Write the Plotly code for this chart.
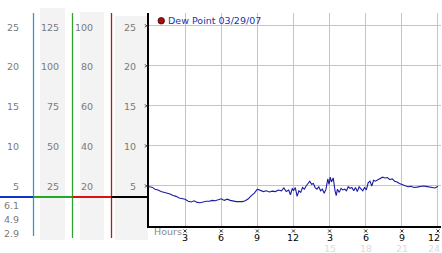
import plotly.graph_objects as go

W, H = 442, 253

# ---- data ----
hours = [0.0, 0.25, 0.5, 0.75, 1.0, 1.25, 1.5, 1.75, 2.0, 2.25, 2.5, 2.75, 3.0, 3.25, 3.5, 3.75,
         4.0, 4.25, 4.5, 4.75, 5.0, 5.25, 5.5, 5.75, 6.0, 6.25, 6.5, 6.75, 7.0, 7.25, 7.5, 7.75,
         8.0, 8.25, 8.5, 8.75, 9.0, 9.25, 9.5, 9.75, 10.0, 10.25, 10.5, 10.75, 11.0, 11.2, 11.4,
         11.6, 11.75, 11.9, 12.0, 12.15, 12.3, 12.45, 12.6, 12.75, 12.9, 13.05, 13.2, 13.35, 13.5,
         13.65, 13.8, 13.95, 14.1, 14.25, 14.4, 14.55, 14.7, 14.85, 14.95, 15.05, 15.15, 15.3,
         15.45, 15.55, 15.65, 15.8, 15.95, 16.1, 16.25, 16.4, 16.55, 16.7, 16.85, 17.0, 17.15,
         17.3, 17.45, 17.6, 17.75, 17.9, 18.05, 18.2, 18.35, 18.5, 18.65, 18.8, 19.0, 19.2, 19.4,
         19.6, 19.8, 20.0, 20.2, 20.4, 20.6, 20.8, 21.0, 21.25, 21.5, 21.75, 22.0, 22.25, 22.5,
         22.75, 23.0, 23.25, 23.5, 23.75, 24.0]
dew_point = [4.9, 4.85, 4.6, 4.5, 4.3, 4.2, 4.1, 4.0, 3.8, 3.7, 3.5, 3.4, 3.35, 3.1, 3.0, 3.15,
             2.95, 2.9, 3.0, 3.1, 3.1, 3.2, 3.15, 3.3, 3.4, 3.2, 3.35, 3.2, 3.1, 3.05, 3.05, 3.05,
             3.15, 3.4, 3.8, 4.1, 4.6, 4.4, 4.3, 4.4, 4.25, 4.35, 4.3, 4.5, 4.4, 4.75, 4.3,
             4.5, 3.9, 4.7, 4.4, 4.8, 3.7, 4.4, 4.2, 4.8, 4.6, 5.0, 5.3, 5.6, 5.2,
             5.3, 4.8, 4.6, 4.9, 4.4, 4.6, 4.1, 4.6, 5.9, 5.2, 6.1, 5.5, 6.0,
             4.4, 3.8, 4.6, 4.2, 4.7, 4.5, 4.6, 4.4, 4.9, 4.7, 4.8, 4.4, 4.8,
             4.3, 4.9, 4.7, 4.4, 4.8, 4.5, 5.4, 5.6, 5.0, 5.7, 5.6, 5.8, 5.9, 6.1,
             6.0, 6.05, 5.8, 5.9, 5.6, 5.5, 5.3, 5.2, 5.0, 4.9, 4.95, 4.8, 4.85, 4.9,
             5.0, 4.95, 4.9, 4.8, 4.75, 4.95]

x_ticks = [3, 6, 9, 12, 15, 18, 21, 24]
x_ticktext = ["3", "6", "9", "12", "3", "6", "9", "12"]
x_ticks_24h = [15, 18, 21, 24]
x_ticktext_24h = ["15", "18", "21", "24"]
y_ticks = [5, 10, 15, 20, 25]

col1_labels = ["25", "20", "15", "10", "5"]
col2_labels = ["125", "100", "75", "50", "25"]
col3_labels = ["100", "80", "60", "40", "20"]
col4_labels = ["25", "20", "15", "10", "5"]
extra_labels = ["6.1", "4.9", "2.9"]
legend_text = "Dew Point 03/29/07"

FONT = "DejaVu Sans"

def px(x):
    return x / W

def py(y):
    return (H - y) / H

fig = go.Figure()
fig.add_trace(go.Scatter(x=hours, y=dew_point, mode="lines",
                         line=dict(color="#1c1ca0", width=1.1), hoverinfo="skip",
                         showlegend=False))

shapes = []
# grey bands of left panel
for x0, x1, y0 in [(40, 65, 8), (80, 104, 12), (115, 148, 16)]:
    shapes.append(dict(type="rect", xref="paper", yref="paper", x0=px(x0), x1=px(x1),
                       y0=py(240), y1=py(y0), fillcolor="#f3f3f3", line=dict(width=0),
                       layer="below"))
# coloured vertical separators
for xx, col, yb in [(33.5, "#2f9cc0", 236), (72.5, "#2ea52e", 238), (111.5, "#a82020", 238)]:
    shapes.append(dict(type="line", xref="paper", yref="paper", x0=px(xx), x1=px(xx),
                       y0=py(yb), y1=py(13), line=dict(color=col, width=1.3)))
# coloured horizontal bar
for x0, x1, col in [(0, 33.5, "#1133cc"), (33.5, 72.5, "#22aa22"), (72.5, 111.5, "#dd1111"),
                    (111.5, 149, "#000000")]:
    shapes.append(dict(type="line", xref="paper", yref="paper", x0=px(x0), x1=px(x1),
                       y0=py(197), y1=py(197), line=dict(color=col, width=2.2)))
# legend dot
shapes.append(dict(type="circle", xref="paper", yref="paper", x0=px(158), x1=px(164.5),
                   y0=py(24), y1=py(17.5), fillcolor="#a01010", line=dict(color="#400000", width=0.8)))

# tiny "x" tick marks, positioned by the axes' scales with pixel-sized extents
def tiny_x(xref, yref, xanchor, yanchor, dx0, dx1, dy0, dy1):
    out = []
    for a, b in [(dy0, dy1), (dy1, dy0)]:
        out.append(dict(type="line", xref=xref, yref=yref, xsizemode="pixel", ysizemode="pixel",
                        xanchor=xanchor, yanchor=yanchor, x0=dx0, x1=dx1, y0=a, y1=b,
                        line=dict(color="#333333", width=1), layer="above"))
    return out

for v in y_ticks:
    shapes += tiny_x("paper", "y", px(149), v, -4, -1, -1.5, 1.5)
for v in x_ticks:
    shapes += tiny_x("x", "paper", v, py(226), -1.5, 1.5, -6.5, -3.5)

annotations = []
ys = [27, 66, 106, 146, 186]
for labels, xr in [(col1_labels, 20.5), (col2_labels, 60.5), (col3_labels, 94.5), (col4_labels, 137.5)]:
    for lab, yy in zip(labels, ys):
        annotations.append(dict(text=lab, xref="paper", yref="paper", x=px(xr), y=py(yy),
                                xanchor="right", yanchor="middle", showarrow=False,
                                font=dict(family=FONT, size=9.5, color="#7a7a7a")))
for lab, yy in zip(extra_labels, [205, 219, 233]):
    annotations.append(dict(text=lab, xref="paper", yref="paper", x=px(21), y=py(yy),
                            xanchor="right", yanchor="middle", showarrow=False,
                            font=dict(family=FONT, size=9.5, color="#7a7a7a")))
# x tick labels (last one kept inside the right edge)
for i, (v, t) in enumerate(zip(x_ticks, x_ticktext)):
    last = i == len(x_ticks) - 1
    annotations.append(dict(text=t, xref="paper" if last else "x", yref="paper",
                            x=1.0 if last else v, y=py(237.5),
                            xanchor="right" if last else "center", yanchor="middle",
                            showarrow=False,
                            font=dict(family=FONT, size=9.5, color="#000000")))
# faint 24h labels (partly below the window edge, as in the original)
for i, (v, t) in enumerate(zip(x_ticks_24h, x_ticktext_24h)):
    last = i == len(x_ticks_24h) - 1
    annotations.append(dict(text=t, xref="paper" if last else "x", yref="paper",
                            x=1.0 if last else v, y=py(248.5),
                            xanchor="right" if last else "center", yanchor="middle",
                            showarrow=False,
                            font=dict(family=FONT, size=9.5, color="#dcdcdc")))
annotations.append(dict(text="Hours", xref="paper", yref="paper", x=px(152), y=py(231.5),
                        xanchor="left", yanchor="middle", showarrow=False,
                        font=dict(family=FONT, size=9.5, color="#8a8a8a")))
annotations.append(dict(text=legend_text, xref="paper", yref="paper", x=px(165.5), y=py(20.5),
                        xanchor="left", yanchor="middle", showarrow=False,
                        font=dict(family=FONT, size=9.5, color="#2233aa")))

fig.update_layout(
    width=W, height=H,
    margin=dict(l=0, r=0, t=0, b=0),
    paper_bgcolor="white", plot_bgcolor="white",
    shapes=shapes, annotations=annotations,
    xaxis=dict(domain=[px(149), px(441)], range=[0, 24.25], tickvals=x_ticks,
               showticklabels=False, showgrid=True, gridcolor="#c4c4c4", gridwidth=1,
               showline=True, linecolor="#000000", linewidth=2, zeroline=False),
    yaxis=dict(domain=[py(226), py(13)], range=[0, 26.6], tickvals=y_ticks,
               showticklabels=False, showgrid=True, gridcolor="#c4c4c4", gridwidth=1,
               showline=True, linecolor="#000000", linewidth=2, zeroline=False),
)

fig.write_html("out.html")
